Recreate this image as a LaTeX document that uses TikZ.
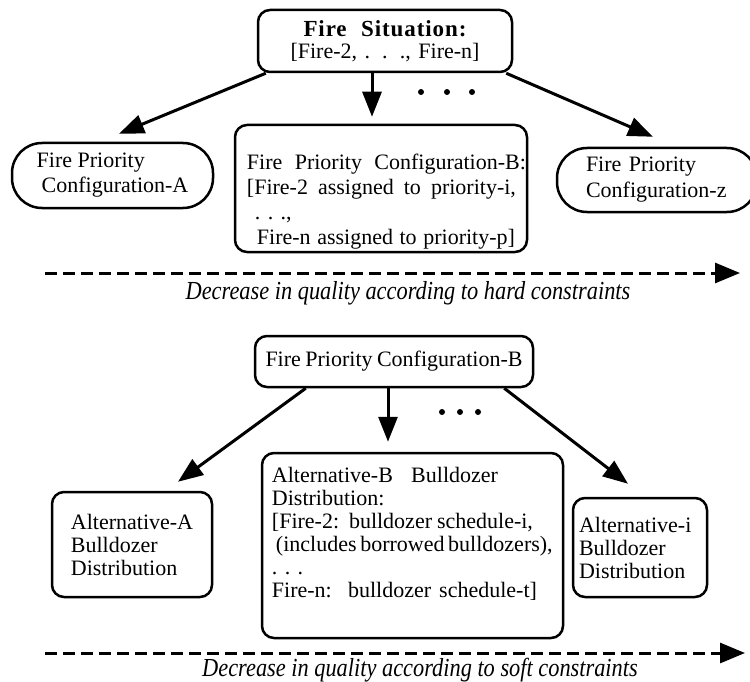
\documentclass[tikz,border=0pt]{standalone}
\usepackage{fontspec}
\setmainfont{Liberation Serif}
\usetikzlibrary{arrows.meta}
\newcommand\fitln[2]{\makebox[#1pt][s]{#2}}
\begin{document}
\begin{tikzpicture}[x=1pt,y=-1pt,
  box/.style={draw, line width=2.5pt, rounded corners=12pt, inner sep=0pt, align=left, font=\fontsize{22}{24}\selectfont},
  pill/.style={box, rounded corners=30pt},
  txt/.style={inner sep=0pt, align=left, anchor=north west},
  arr/.style={line width=3pt, -{Triangle[length=25pt,width=19pt]}},
  dasharr/.style={line width=3pt, dash pattern=on 12pt off 6pt, -{Triangle[length=25pt,width=20pt]}},
  note/.style={inner sep=0pt, xscale=0.86, font=\fontsize{26}{28}\selectfont\itshape},
  dotm/.style={circle, fill, inner sep=0pt, minimum size=6pt}
]
\useasboundingbox (0,0) rectangle (750,682);

% ---------- upper part ----------
\node[box, align=center, minimum width=254pt, minimum height=62pt, font=\fontsize{22}{22}\selectfont] (top) at (385,41)
  {{\fontsize{23}{22}\selectfont\bfseries\addfontfeature{LetterSpace=4}\fitln{163}{Fire Situation:}}\\\fitln{189}{{[}Fire-2, . . ., Fire-n{]}}};

\node[pill, minimum width=201pt, minimum height=65pt, font=\fontsize{22}{25}\selectfont] (cA) at (112.5,175.5)
  {Fire Priority\\\hspace*{5pt}Configuration-A};

\node[box, minimum width=292pt, minimum height=127pt] (cB) at (381,188.5) {};
\node[txt, font=\fontsize{22}{25}\selectfont] (cBt) at ([xshift=13pt,yshift=-30pt]cB.north west)
  {\fitln{279}{Fire Priority Configuration-B:}\\\fitln{269}{{[}Fire-2 assigned to priority-i,}\\\hspace*{8pt}. . .,\\\hspace*{10pt}\fitln{258}{Fire-n assigned to priority-p{]}}};

\node[pill, minimum width=200pt, minimum height=64pt, text width=142pt, font=\fontsize{22}{26}\selectfont] (cZ) at (657,180)
  {Fire Priority\\Configuration-z};

\draw[arr] ([xshift=9pt]top.south west) -- ([xshift=6.5pt,yshift=8pt]cA.north);
\draw[arr] ([xshift=-13pt]top.south) -- ([xshift=-9pt,yshift=7pt]cB.north);
\draw[arr] ([xshift=-7pt]top.south east) -- ([xshift=-4pt,yshift=10pt]cZ.north);

\node[dotm] (d1) at (421,92) {};
\node[dotm] (d2) at (447,92) {};
\node[dotm] (d3) at (472,92) {};

\coordinate (h1) at (45,273);
\coordinate (h2) at (740,273);
\draw[dasharr] (h1) -- (h2);
\node[note] (hard) at (408,293) {Decrease in quality according to hard constraints};

% ---------- lower part ----------
\node[box, align=center, minimum width=278pt, minimum height=51pt, font=\fontsize{22}{24}\selectfont] (bCB) at (394,361.5)
  {\fitln{257}{Fire Priority Configuration-B}};

\node[box, minimum width=160pt, minimum height=105pt, font=\fontsize{22}{23}\selectfont] (aA) at (132,544.5)
  {Alternative-A\\Bulldozer\\Distribution};

\node[box, minimum width=301pt, minimum height=185pt] (aB) at (412.5,545.5) {};
\node[txt, font=\fontsize{22}{23}\selectfont] (aBt) at ([xshift=11pt,yshift=-15pt]aB.north west)
  {\fitln{226}{Alternative-B Bulldozer}\\Distribution:\\\fitln{261}{{[}Fire-2:\ \ bulldozer schedule-i,}\\\hspace*{4pt}\fitln{264}{(includes borrowed bulldozers),}\\. . .\\\fitln{265}{Fire-n:\ \ bulldozer schedule-t{]}}};

\node[box, minimum width=134pt, minimum height=99pt, text width=122pt, font=\fontsize{22}{23}\selectfont] (aI) at (640,547.5)
  {Alternative-i\\Bulldozer\\Distribution};

\draw[arr] ([xshift=52pt]bCB.south west) -- ([xshift=46pt,yshift=9pt]aA.north);
\draw[arr] ([xshift=-6pt]bCB.south) -- ([xshift=-24.5pt,yshift=10pt]aB.north);
\draw[arr] ([xshift=-30pt]bCB.south east) -- ([xshift=-12pt,yshift=13pt]aI.north);

\node[dotm] (e1) at (442,412) {};
\node[dotm] (e2) at (460,412) {};
\node[dotm] (e3) at (478,412) {};

\coordinate (s1) at (45,653);
\coordinate (s2) at (745,653);
\draw[dasharr] (s1) -- (s2);
\node[note] (soft) at (420,670) {Decrease in quality according to soft constraints};
\end{tikzpicture}
\end{document}
